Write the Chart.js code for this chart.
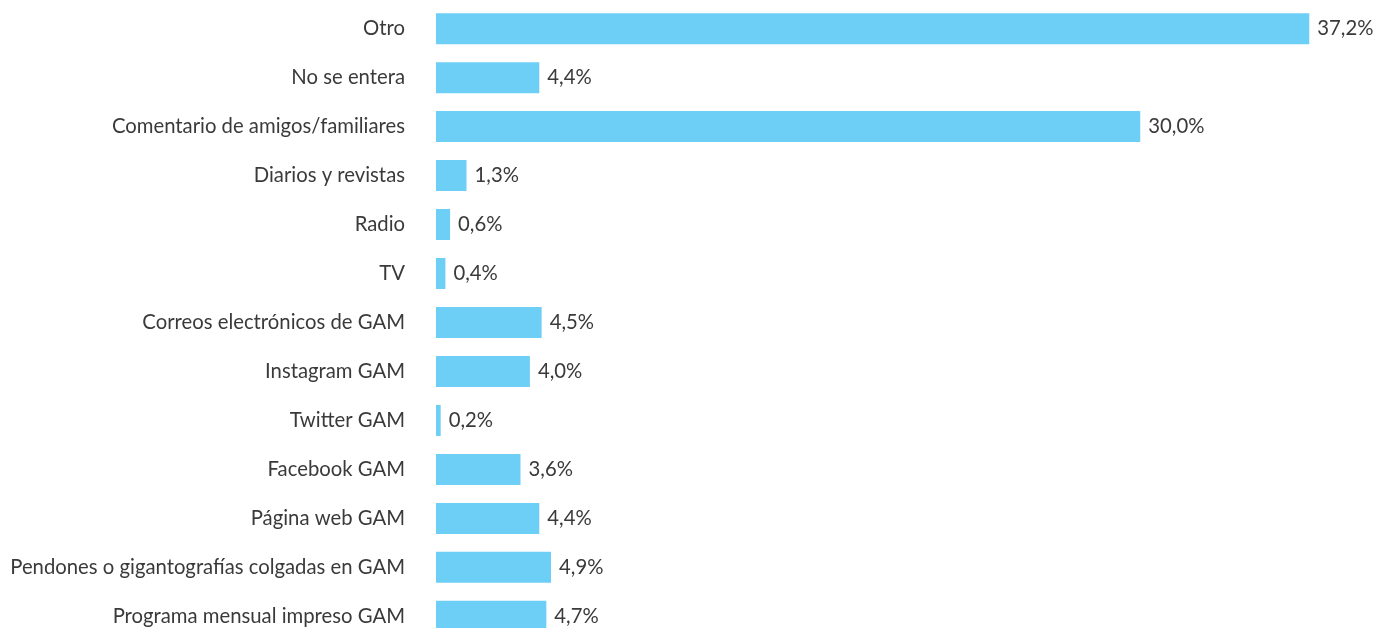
<!DOCTYPE html>
<html>
<head>
<meta charset="utf-8">
<script src="https://cdn.jsdelivr.net/npm/chart.js@4/dist/chart.umd.min.js"></script>
<style>
  html, body { margin: 0; padding: 0; background: #fff; overflow: hidden; }
  #wrap { width: 1375px; height: 661px; position: relative; top: -8px; }
</style>
</head>
<body>
<div id="wrap"><canvas id="chart"></canvas></div>
<script>
const categories = [
    'Otro',
    'No se entera',
    'Comentario de amigos/familiares',
    'Diarios y revistas',
    'Radio',
    'TV',
    'Correos electrónicos de GAM',
    'Instagram GAM',
    'Twitter GAM',
    'Facebook GAM',
    'Página web GAM',
    'Pendones o gigantografías colgadas en GAM',
    'Programa mensual impreso GAM'
]

const values = [37.2, 4.4, 30.0, 1.3, 0.6, 0.4, 4.5, 4.0, 0.2, 3.6, 4.4, 4.9, 4.7]

const FONT = 'Lato, "Noto Sans", sans-serif'
const TEXT = '#3a3a3a'

function fmt(v){
    return v.toFixed(1).replace('.', ',') + '%'
}

const valueLabels = {
    id: 'valueLabels',
    afterDatasetsDraw(chart){
        const ctx = chart.ctx
        const meta = chart.getDatasetMeta(0)
        ctx.save()
        ctx.font = '20.3px ' + FONT
        ctx.fillStyle = TEXT
        ctx.textAlign = 'left'
        ctx.textBaseline = 'middle'
        meta.data.forEach((bar, i) => {
            ctx.fillText(fmt(values[i]), bar.x + 8, bar.y)
        })
        ctx.restore()
    }
}

const data = {
    labels: categories,
    datasets: [
        {
            data: values,
            backgroundColor: '#6dcff6',
            borderWidth: 0,
            categoryPercentage: 1,
            barPercentage: 0.633
        }
    ]
}

const config = {
    type: 'bar',
    data: data,
    options: {
        indexAxis: 'y',
        responsive: true,
        maintainAspectRatio: false,
        animation: false,
        layout: { padding: 0 },
        plugins: {
            legend: { display: false },
            tooltip: { enabled: false }
        },
        scales: {
            x: {
                min: 0,
                max: 40,
                display: false
            },
            y: {
                // tick marks are hidden, their length just makes the gap before the bars
                grid: { display: false, drawTicks: true, tickLength: 31 },
                border: { display: false },
                ticks: {
                    padding: 0,
                    color: TEXT,
                    font: { family: FONT, size: 20.3 }
                },
                afterFit(scale){ scale.width = 436 }
            }
        }
    },
    plugins: [valueLabels]
}

new Chart(document.getElementById('chart').getContext('2d'), config)
</script>
</body>
</html>
